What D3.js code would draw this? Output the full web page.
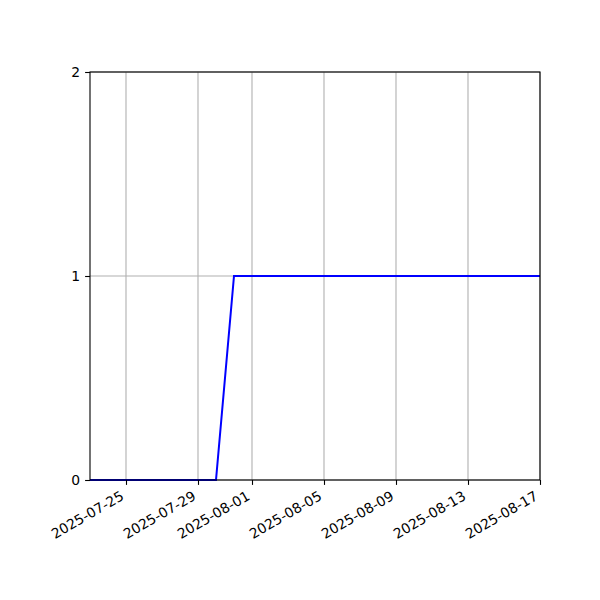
<!DOCTYPE html>
<html>
<head>
<meta charset="utf-8">
<script src="https://cdn.jsdelivr.net/npm/d3@7"></script>
<style>
  body { margin: 0; background: #fff; }
  text { font-family: "DejaVu Sans", sans-serif; }
</style>
</head>
<body>
<div id="chart"></div>
<script>
// daily values
const dates = [
  '2025-07-23', '2025-07-24', '2025-07-25', '2025-07-26', '2025-07-27',
  '2025-07-28', '2025-07-29', '2025-07-30', '2025-07-31', '2025-08-01',
  '2025-08-02', '2025-08-03', '2025-08-04', '2025-08-05', '2025-08-06',
  '2025-08-07', '2025-08-08', '2025-08-09', '2025-08-10', '2025-08-11',
  '2025-08-12', '2025-08-13', '2025-08-14', '2025-08-15', '2025-08-16',
  '2025-08-17'
]
const values = [
  0, 0, 0, 0, 0, 0, 0, 0, 1, 1,
  1, 1, 1, 1, 1, 1, 1, 1, 1, 1,
  1, 1, 1, 1, 1, 1
]
const xTicks = ['2025-07-25', '2025-07-29', '2025-08-01', '2025-08-05', '2025-08-09', '2025-08-13', '2025-08-17']
const yTicks = [0, 1, 2]

const width = 600, height = 600
const margin = { left: 90, right: 60, top: 72, bottom: 120 }
const parse = d3.utcParse('%Y-%m-%d')
const fmt = d3.utcFormat('%Y-%m-%d')

const data = dates.map((d, i) => ({ date: parse(d), value: values[i] }))

const svg = d3.select('#chart').append('svg')
    .attr('width', width)
    .attr('height', height)

const x = d3.scaleUtc()
    .domain([parse('2025-07-23'), parse('2025-08-17')])
    .range([margin.left, width - margin.right])

const y = d3.scaleLinear()
    .domain([0, 2])
    .range([height - margin.bottom, margin.top])

// grid
svg.append('g')
  .selectAll('line')
  .data(xTicks)
  .enter().append('line')
    .attr('x1', d => x(parse(d)))
    .attr('x2', d => x(parse(d)))
    .attr('y1', margin.top)
    .attr('y2', height - margin.bottom)
    .attr('stroke', '#b0b0b0')
    .attr('stroke-width', 1.1)

svg.append('g')
  .selectAll('line')
  .data(yTicks)
  .enter().append('line')
    .attr('x1', margin.left)
    .attr('x2', width - margin.right)
    .attr('y1', d => y(d))
    .attr('y2', d => y(d))
    .attr('stroke', '#b0b0b0')
    .attr('stroke-width', 1.1)

// line
svg.append('path')
    .datum(data)
    .attr('fill', 'none')
    .attr('stroke', '#0000ff')
    .attr('stroke-width', 2)
    .attr('d', d3.line().x(d => x(d.date)).y(d => y(d.value)))

// axes
const xAxis = svg.append('g')
    .attr('transform', `translate(0,${height - margin.bottom})`)
    .call(d3.axisBottom(x).tickValues(xTicks.map(parse)).tickFormat(fmt).tickSizeOuter(0).tickSize(4.9))

xAxis.selectAll('text')
    .attr('font-size', 13.9)
    .attr('fill', '#000')
    .attr('text-anchor', 'end')
    .attr('dy', null)
    .attr('x', 0)
    .attr('y', 0)
    .attr('transform', 'translate(-1.7,18.8) rotate(-30)')

const yAxis = svg.append('g')
    .attr('transform', `translate(${margin.left},0)`)
    .call(d3.axisLeft(y).tickValues(yTicks).tickFormat(d3.format('d')).tickSizeOuter(0).tickSize(4.9).tickPadding(4.9))

yAxis.selectAll('text').attr('font-size', 13.9).attr('fill', '#000')

svg.selectAll('.domain').remove()
svg.selectAll('.tick line').attr('stroke', '#000').attr('stroke-width', 1.1)

// frame
svg.append('rect')
    .attr('x', margin.left)
    .attr('y', margin.top)
    .attr('width', width - margin.left - margin.right)
    .attr('height', height - margin.top - margin.bottom)
    .attr('fill', 'none')
    .attr('stroke', '#000')
    .attr('stroke-width', 1.1)
</script>
</body>
</html>
